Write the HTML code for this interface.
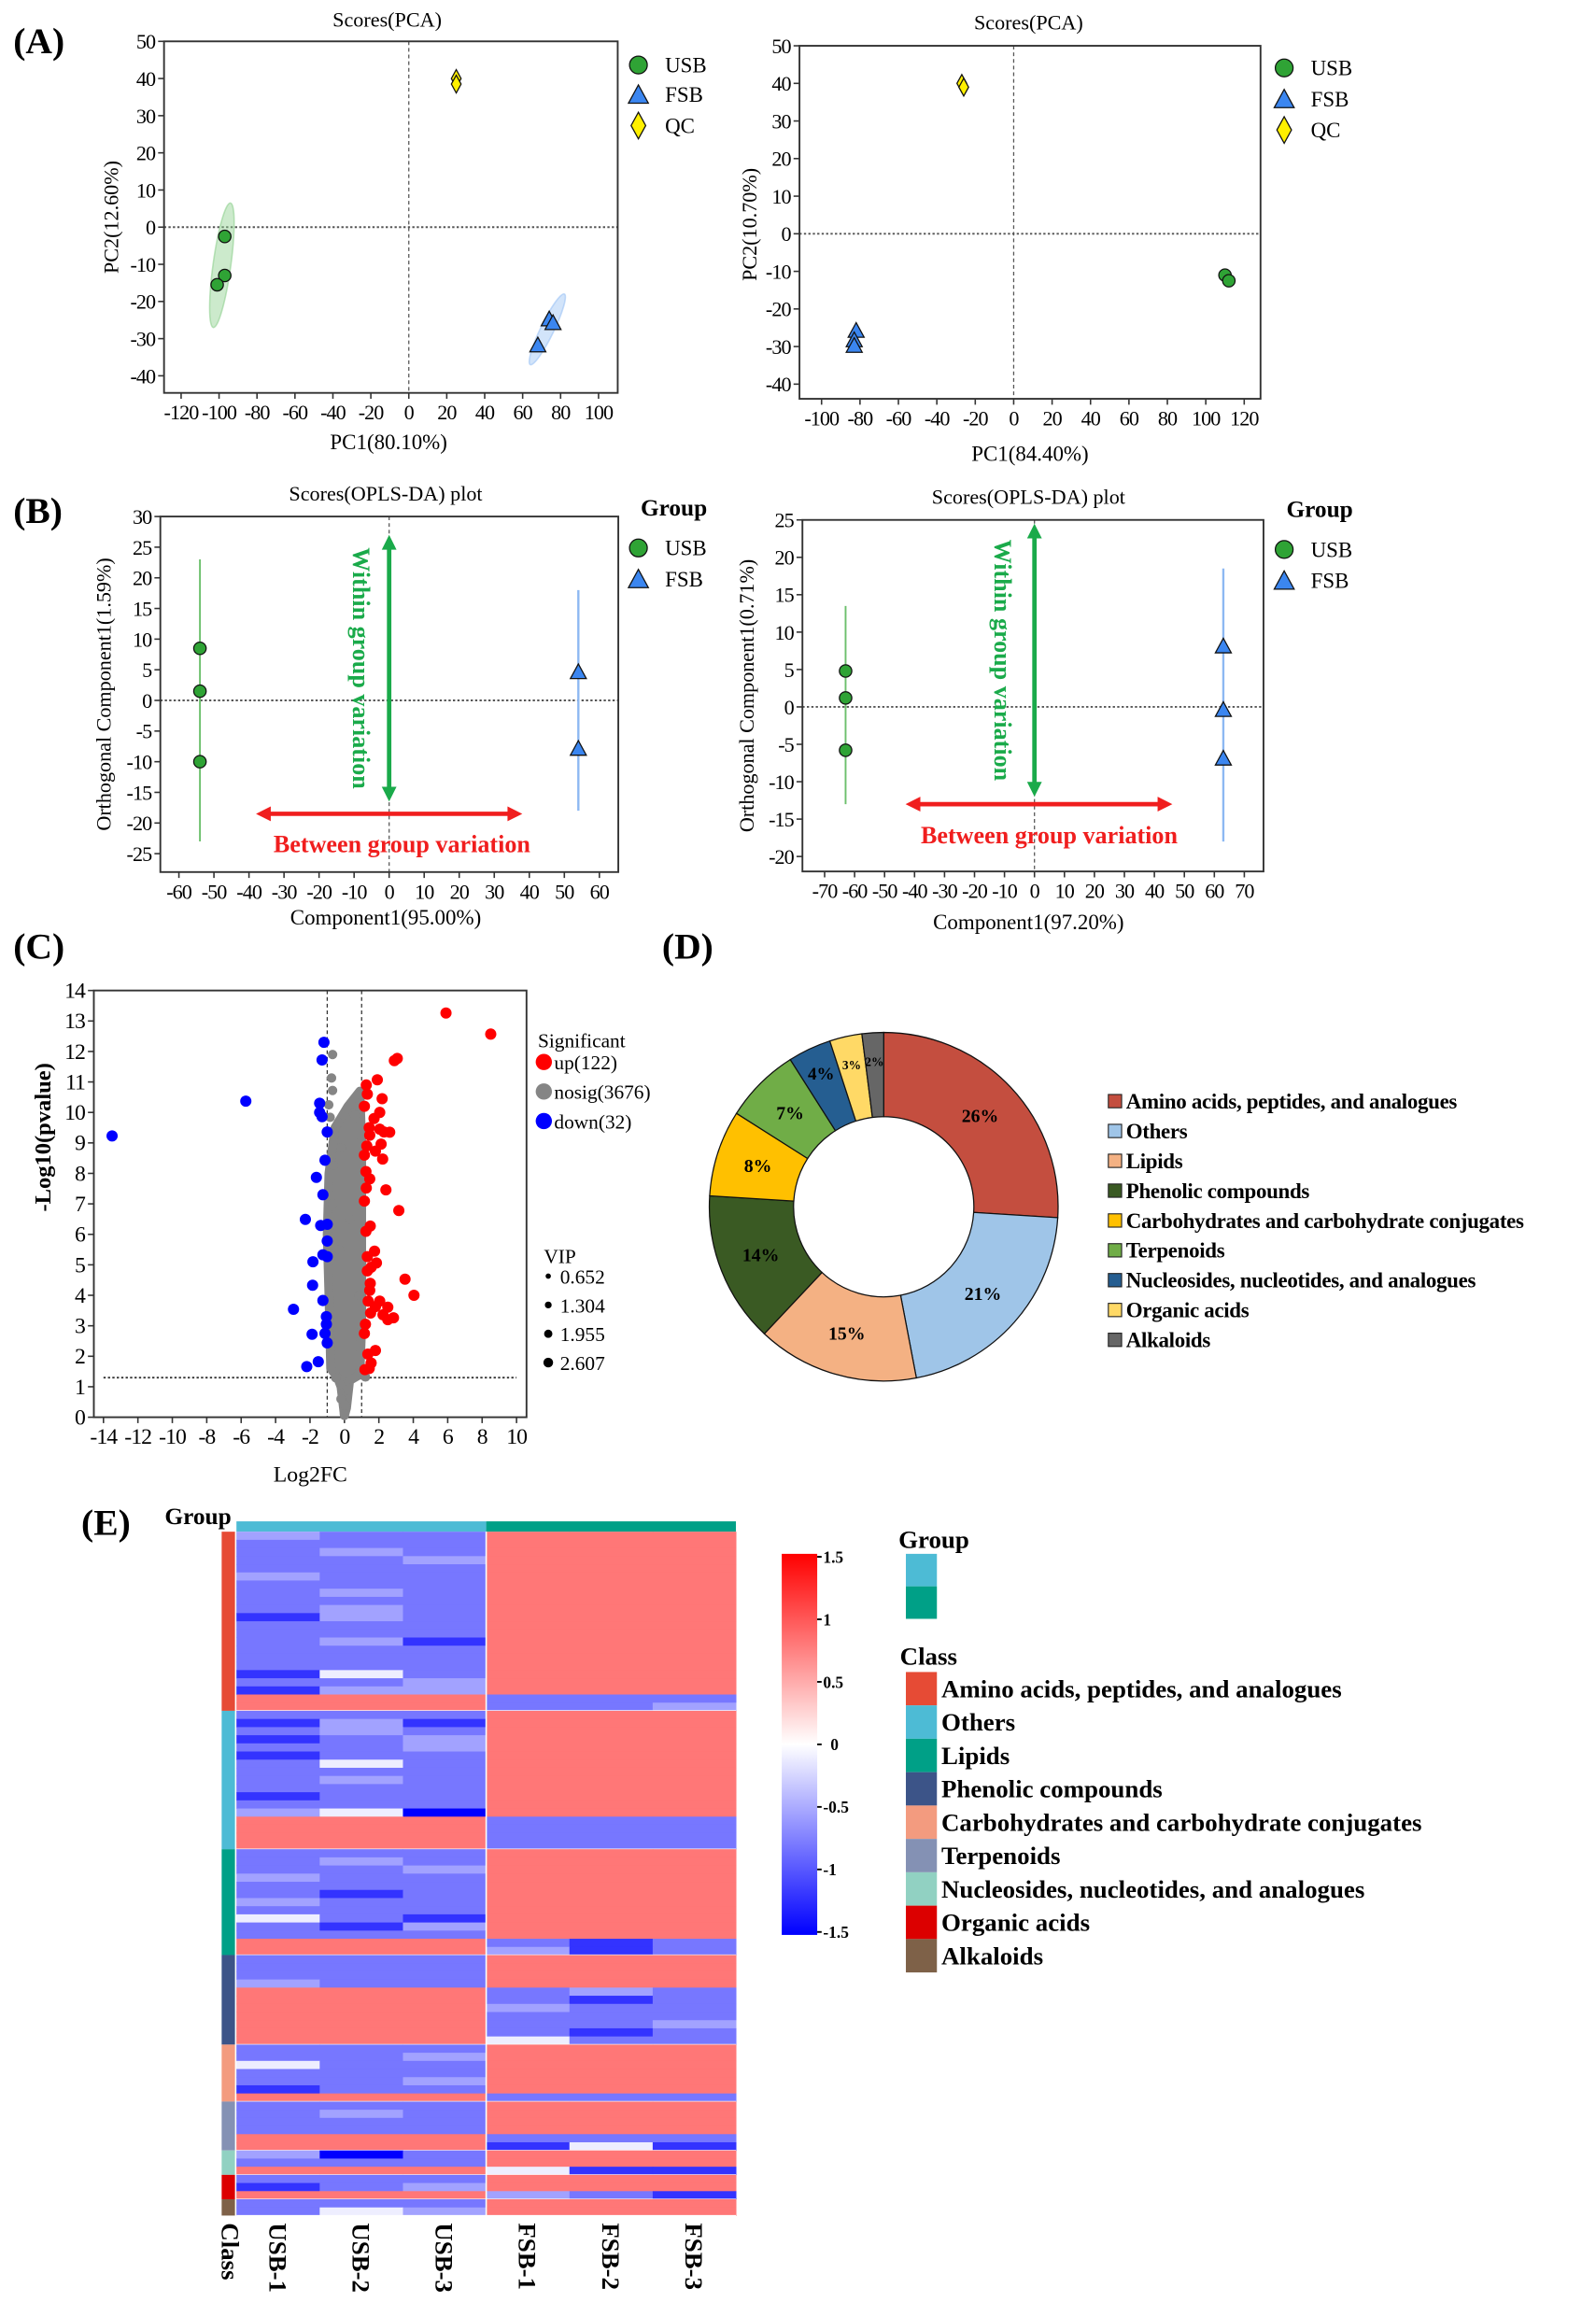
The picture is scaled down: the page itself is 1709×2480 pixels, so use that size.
<!DOCTYPE html>
<html><head><meta charset="utf-8"><style>
html,body{margin:0;padding:0;background:#fff;}
svg{display:block;}
text{font-family:"Liberation Serif","Times New Roman",serif;fill:#000;}
</style></head>
<body>
<svg id="fig" xmlns="http://www.w3.org/2000/svg" width="1709" height="2480" viewBox="0 0 1080 1568" preserveAspectRatio="none">
<defs>
<linearGradient id="cbar" x1="0" y1="0" x2="0" y2="1">
<stop offset="0" stop-color="#ff0000"/><stop offset="0.5" stop-color="#ffffff"/><stop offset="1" stop-color="#0000ff"/>
</linearGradient>
</defs>
</svg>
<script>
// ---------- DATA ----------
// Panel A left (PCA)
const pcaL_usb_x=[-97,-97,-101], pcaL_usb_y=[-2.5,-13,-15.5];
const pcaL_fsb_x=[74,76,68], pcaL_fsb_y=[-25,-26,-32];
const pcaL_qc_x=[25,25], pcaL_qc_y=[40,38.5];
const pcaL_ellG=[-103,-27,-94,6.5,6], pcaL_ellB=[64,-37,82,-18,4.5];
// Panel A right
const pcaR_usb_x=[110,112], pcaR_usb_y=[-11,-12.5];
const pcaR_fsb_x=[-82,-83,-83], pcaR_fsb_y=[-26,-28.5,-30];
const pcaR_qc_x=[-27,-26], pcaR_qc_y=[40,39];
// Panel B left (OPLS-DA)
const oplsL_usb_x=[-54,-54,-54], oplsL_usb_y=[8.5,1.5,-10];
const oplsL_fsb_x=[54,54], oplsL_fsb_y=[4.5,-8];
const oplsL_usbRange=[23,-23], oplsL_fsbRange=[18,-18];
// Panel B right
const oplsR_usb_x=[-63,-63,-63], oplsR_usb_y=[4.8,1.2,-5.8];
const oplsR_fsb_x=[63,63,63], oplsR_fsb_y=[8,-0.5,-7];
const oplsR_usbRange=[13.5,-13], oplsR_fsbRange=[18.5,-18];
// Panel C volcano
const up_x=[5.9,8.5,2.9,3.07,1.91,1.27,1.33,2.19,1.16,2.05,1.72,1.44,2.05,2.63,2.3,1.47,2.13,1.8,1.3,2.22,1.16,1.25,1.47,1.27,2.41,1.16,3.16,1.5,1.25,1.75,1.33,1.86,1.55,1.33,3.52,1.5,1.47,4.04,1.38,2.05,1.8,2.52,1.52,2.24,2.85,2.52,1.22,1.16,1.8,1.36,1.55,1.19,1.44];
const up_y=[13.26,12.57,11.7,11.77,11.07,10.9,10.6,10.45,10.2,10.0,9.8,9.5,9.45,9.35,9.36,9.25,8.96,8.73,8.9,8.47,8.6,8.06,7.82,7.52,7.46,7.09,6.78,6.27,6.1,5.45,5.27,5.06,4.92,4.8,4.53,4.39,4.16,4.0,3.81,3.81,3.63,3.61,3.42,3.36,3.26,3.2,3.05,2.75,2.19,2.07,1.78,1.56,1.6];
const down_x=[-13.5,-5.73,-1.19,-1.3,-1.44,-1.44,-1.3,-1.0,-1.13,-1.63,-1.25,-2.27,-1.38,-1.0,-1.0,-1.25,-1.0,-1.83,-1.85,-1.25,-2.96,-1.05,-1.05,-1.88,-1.13,-1.0,-1.52,-2.19];
const down_y=[9.23,10.37,12.3,11.72,10.3,10.0,9.86,9.36,8.43,7.87,7.3,6.49,6.29,6.33,5.78,5.33,5.27,5.1,4.33,3.83,3.54,3.3,3.05,2.72,2.75,2.44,1.82,1.66];
const nosig_x=[-0.69,-0.75,-0.69,-0.91,-0.83,-0.36,-0.19,0.91,-0.64,1.22,-0.5,0.8,0.6,-0.7,0.3,-0.3,0.85,-0.85,0.1,-0.1,0.05,0.2,-0.2,0.0];
const nosig_y=[11.9,11.13,10.72,10.25,9.84,9.66,8.84,10.58,8.26,1.32,1.29,10.2,9.9,7.0,6.5,5.5,4.0,3.0,1.0,0.8,0.4,0.9,0.6,0.1];
const nosig_hull_x=[-0.8,-0.9,-1.0,-0.9,-0.55,0.2,0.9,1.0,1.0,1.0,0.9,0.3,0.12,0.0,-0.2,-0.4];
const nosig_hull_y=[1.6,4,6,8,9.5,10.2,10.7,9,6,3,1.4,1.2,0.3,0.05,1.0,1.3];
const vip_vals=["0.652","1.304","1.955","2.607"];
// Panel D donut
const donut_labels=["Amino acids, peptides, and analogues","Others","Lipids","Phenolic compounds","Carbohydrates and carbohydrate conjugates","Terpenoids","Nucleosides, nucleotides, and analogues","Organic acids","Alkaloids"];
const donut_vals=[26,21,15,14,8,7,4,3,2];
const donut_colors=["#C44E3F","#9FC5E8","#F4B183","#3A5A23","#FFC000","#70AD47","#255E91","#FFD966","#666666"];
// Panel E heatmap
const hm_cols=["USB-1","USB-2","USB-3","FSB-1","FSB-2","FSB-3"];
const hm_classes=["Amino acids, peptides, and analogues","Others","Lipids","Phenolic compounds","Carbohydrates and carbohydrate conjugates","Terpenoids","Nucleosides, nucleotides, and analogues","Organic acids","Alkaloids"];
const hm_classColors=["#E64B35","#4DBBD5","#00A087","#3C5488","#F39B7F","#8491B4","#91D1C2","#DC0000","#7E6148"];
const hm_code={D:-1.5,d:-1.2,m:-0.8,l:-0.55,w:-0.1,R:0.8};
const hm_rows=[
["lmmRRR","mmmRRR","mlmRRR","mmlRRR","mmmRRR","lmmRRR","mmmRRR","mlmRRR","mmmRRR","mlmRRR","dlmRRR","mmmRRR","mmmRRR","mldRRR","mmmRRR","mmmRRR","mmmRRR","dwmRRR","mmlRRR","dllRRR","RRRmmm","RRRmml"],
["mmmRRR","dldRRR","mlmRRR","dmlRRR","mmlRRR","dmmRRR","mwmRRR","mmmRRR","mlmRRR","mmmRRR","dmmRRR","mmmRRR","lwDRRR","RRRmmm","RRRmmm","RRRmmm","RRRmmm"],
["mmmRRR","mlmRRR","mmlRRR","lmmRRR","mmmRRR","mdmRRR","lmmRRR","mmmRRR","wmdRRR","mdlRRR","mmmRRR","RRRmdm","RRRldm"],
["mmmRRR","mmmRRR","mmmRRR","lmmRRR","RRRmlm","RRRmdm","RRRlmm","RRRmmm","RRRmml","RRRmdm","RRRwmm"],
["mmmRRR","mmlRRR","wmmRRR","mmmRRR","mmlRRR","dmmRRR","RRRmmm"],
["mmmRRR","mlmRRR","mmmRRR","mmmRRR","RRRmmm","RRRdwd"],
["lDmRRR","mmmRRR","RRRwdd"],
["mmmRRR","dmlRRR","RRRlmd"],
["mmmRRR","mwlRRR"]
];
const cbar_ticks=[1.5,1,0.5,0,-0.5,-1,-1.5];
const cbar_labels=["1.5","1","0.5","0","-0.5","-1","-1.5"];

// ---------- HELPERS ----------
const NS="http://www.w3.org/2000/svg";
const svg=document.getElementById('fig');
function mk(tag,attrs,parent){const e=document.createElementNS(NS,tag);for(const k in attrs)e.setAttribute(k,attrs[k]);(parent||svg).appendChild(e);return e;}
function txt(s,x,y,size,opts,parent){const o=Object.assign({x:x,y:y,'font-size':size},opts||{});const e=mk('text',o,parent);e.textContent=s;return e;}
function lin(d0,d1,p0,p1){return v=>p0+(v-d0)/(d1-d0)*(p1-p0);}
function group(name){const g=mk('g',{});return g;}

function axes(g,box,xs,ys,xt,yt,fs,xlabels){
  const r=mk('rect',{x:box.l,y:box.t,width:box.r-box.l,height:box.b-box.t,fill:'none',stroke:'#333','stroke-width':1.2},g);
  
  
  xt.forEach((v,i)=>{const x=xs(v);
    const t=mk('line',{x1:x,x2:x,y1:box.b,y2:box.b+4,stroke:'#333'},g);
    
    
    const l=txt(xlabels?xlabels[i]:String(v),x,box.b+18,fs,{'text-anchor':'middle','letter-spacing':'-0.6'},g);
    
    
  });
  yt.forEach(v=>{const y=ys(v);
    const t=mk('line',{x1:box.l-4,x2:box.l,y1:y,y2:y,stroke:'#333'},g);
    
    
    const l=txt(String(v),box.l-6,y+5,fs,{'text-anchor':'end','letter-spacing':'-0.6'},g);
    
    
  });
}
function zeroLines(g,box,xs,ys){
  const v=mk('line',{x1:xs(0),x2:xs(0),y1:box.t,y2:box.b,stroke:'#555','stroke-width':0.8,'stroke-dasharray':'2.5,2'},g);
  
  
  const h=mk('line',{x1:box.l,x2:box.r,y1:ys(0),y2:ys(0),stroke:'#555','stroke-width':1.2,'stroke-dasharray':'1.5,1.5'},g);
  
  
}
function circ(g,x,y,r,fill,name){const c=mk('circle',{cx:x,cy:y,r:r,fill:fill,stroke:'#111','stroke-width':0.8},g);
  
  return c;}
function tri(g,x,y,s,fill,name){const p=mk('polygon',{points:`${x},${y-s} ${x-s*0.9},${y+s*0.65} ${x+s*0.9},${y+s*0.65}`,fill:fill,stroke:'#111','stroke-width':0.8},g);
  
  return p;}
function dia(g,x,y,s,fill,name){const p=mk('polygon',{points:`${x},${y-s} ${x+s*0.55},${y} ${x},${y+s} ${x-s*0.55},${y}`,fill:fill,stroke:'#111','stroke-width':0.8},g);
  
  return p;}
function ellipse(g,xs,ys,e,fill,name){
  const x1=xs(e[0]),y1=ys(e[1]),x2=xs(e[2]),y2=ys(e[3]);
  const cx=(x1+x2)/2,cy=(y1+y2)/2,len=Math.hypot(x2-x1,y2-y1)/2;
  const ang=Math.atan2(y2-y1,x2-x1)*180/Math.PI;
  const el=mk('ellipse',{cx:cx,cy:cy,rx:len,ry:e[4],fill:fill,'fill-opacity':0.45,stroke:fill,'stroke-opacity':0.6,transform:`rotate(${ang} ${cx} ${cy})`},g);
  
  
}
const GREEN='#2FA335', BLUE='#3B86F0', YELLOW='#FFF000';
function legendItem(g,shape,x,y,label,fill){
  if(shape==='c')circ(g,x,y,6,fill,'legend-marker');
  else if(shape==='t')tri(g,x,y+1,7.5,fill,'legend-marker');
  else dia(g,x,y,9,fill,'legend-marker');
  const t=txt(label,x+18,y+5,14.5,{},g);
  
  
}
function panelLetter(s,x,y){const t=txt(s,x,y,25,{'font-weight':'bold'});
  
  }
function label(g,s,x,y,size,rot,opts,name){
  const o=Object.assign({'text-anchor':'middle'},opts||{});
  if(rot)o.transform=`rotate(${rot} ${x} ${y})`;
  const t=txt(s,x,y,size,o,g);
  
  return t;}

// ---------- PANEL A ----------
panelLetter('(A)',9,36);
(function(){
  const g=group('pca-left-chart');
  const box={l:111,r:418,t:28,b:266};
  const xs=lin(-129,110.1,box.l,box.r), ys=lin(50,-44.6,box.t,box.b);
  zeroLines(g,box,xs,ys);
  ellipse(g,xs,ys,pcaL_ellG,'#8FD18F','usb-ellipse');
  ellipse(g,xs,ys,pcaL_ellB,'#9CC3F5','fsb-ellipse');
  axes(g,box,xs,ys,[-120,-100,-80,-60,-40,-20,0,20,40,60,80,100],[50,40,30,20,10,0,-10,-20,-30,-40],14);
  pcaL_usb_x.forEach((v,i)=>circ(g,xs(v),ys(pcaL_usb_y[i]),4.2,GREEN,'usb-point'));
  pcaL_fsb_x.forEach((v,i)=>tri(g,xs(v),ys(pcaL_fsb_y[i]),6,BLUE,'fsb-point'));
  pcaL_qc_x.forEach((v,i)=>dia(g,xs(v),ys(pcaL_qc_y[i]),6,YELLOW,'qc-point'));
  label(g,'Scores(PCA)',262,18,14,0,{},'chart-title');
  label(g,'PC2(12.60%)',80,147,14,-90,{},'y-axis-title');
  label(g,'PC1(80.10%)',263,304,14.5,0,{},'x-axis-title');
  legendItem(g,'c',432,44,'USB',GREEN);
  legendItem(g,'t',432,64,'FSB',BLUE);
  legendItem(g,'d',432,85,'QC',YELLOW);
})();
(function(){
  const g=group('pca-right-chart');
  const box={l:541,r:853,t:31,b:270};
  const xs=lin(-111.5,128.5,box.l,box.r), ys=lin(50,-43.9,box.t,box.b);
  zeroLines(g,box,xs,ys);
  axes(g,box,xs,ys,[-100,-80,-60,-40,-20,0,20,40,60,80,100,120],[50,40,30,20,10,0,-10,-20,-30,-40],14);
  pcaR_usb_x.forEach((v,i)=>circ(g,xs(v),ys(pcaR_usb_y[i]),4.2,GREEN,'usb-point'));
  pcaR_fsb_x.forEach((v,i)=>tri(g,xs(v),ys(pcaR_fsb_y[i]),6,BLUE,'fsb-point'));
  pcaR_qc_x.forEach((v,i)=>dia(g,xs(v),ys(pcaR_qc_y[i]),6,YELLOW,'qc-point'));
  label(g,'Scores(PCA)',696,20,14,0,{},'chart-title');
  label(g,'PC2(10.70%)',512,152,14,-90,{},'y-axis-title');
  label(g,'PC1(84.40%)',697,312,14.5,0,{},'x-axis-title');
  legendItem(g,'c',869,46,'USB',GREEN);
  legendItem(g,'t',869,67,'FSB',BLUE);
  legendItem(g,'d',869,88,'QC',YELLOW);
})();

// ---------- PANEL B ----------
panelLetter('(B)',9,354);
function arrowH(g,x1,x2,y,col,name){
  const l=mk('line',{x1:x1+8,x2:x2-8,y1:y,y2:y,stroke:col,'stroke-width':3},g);
  
  
  const a=mk('polygon',{points:`${x1},${y} ${x1+10},${y-5} ${x1+10},${y+5}`,fill:col},g);
  
  
  const b=mk('polygon',{points:`${x2},${y} ${x2-10},${y-5} ${x2-10},${y+5}`,fill:col},g);
  
  
}
function arrowV(g,x,y1,y2,col,name){
  const l=mk('line',{x1:x,x2:x,y1:y1+8,y2:y2-8,stroke:col,'stroke-width':3},g);
  
  
  const a=mk('polygon',{points:`${x},${y1} ${x-5},${y1+10} ${x+5},${y1+10}`,fill:col},g);
  
  
  const b=mk('polygon',{points:`${x},${y2} ${x-5},${y2-10} ${x+5},${y2-10}`,fill:col},g);
  
  
}
function opls(name,box,xd,yd,xt,yt,ux,uy,fx,fy,ur,fr,garr,rarr,title,ylab,xlab,tx,ty,ylx,xly,legx,legy,wx,bx,by){
  const g=group(name);
  const xs=lin(xd[0],xd[1],box.l,box.r), ys=lin(yd[0],yd[1],box.t,box.b);
  zeroLines(g,box,xs,ys);
  axes(g,box,xs,ys,xt,yt,14);
  const l1=mk('line',{x1:xs(ux[0]),x2:xs(ux[0]),y1:ys(ur[0]),y2:ys(ur[1]),stroke:'#6CC06C','stroke-width':1.2},g);
  
  
  const l2=mk('line',{x1:xs(fx[0]),x2:xs(fx[0]),y1:ys(fr[0]),y2:ys(fr[1]),stroke:'#8DB8F2','stroke-width':1.5},g);
  
  
  ux.forEach((v,i)=>circ(g,xs(v),ys(uy[i]),4.2,GREEN,'usb-point'));
  fx.forEach((v,i)=>tri(g,xs(v),ys(fy[i]),6,BLUE,'fsb-point'));
  arrowV(g,xs(0),ys(garr[0]),ys(garr[1]),'#1AAA4A','within-group-arrow');
  arrowH(g,xs(rarr[0]),xs(rarr[1]),ys(rarr[2]),'#F01E1E','between-group-arrow');
  label(g,'Within group variation',wx,(ys(garr[0])+ys(garr[1]))/2,16.5,90,{'font-weight':'bold',style:'fill:#1AAA4A'},'within-group-label');
  label(g,'Between group variation',bx,by,16.5,0,{'font-weight':'bold',style:'fill:#F01E1E'},'between-group-label');
  label(g,title,tx,ty,14,0,{},'chart-title');
  label(g,ylab,ylx,(box.t+box.b)/2,14,-90,{},'y-axis-title');
  label(g,xlab,tx,xly,14.5,0,{},'x-axis-title');
  label(g,'Group',legx+24,legy,16,0,{'font-weight':'bold'},'legend-title');
  legendItem(g,'c',legx,legy+22,'USB',GREEN);
  legendItem(g,'t',legx,legy+43,'FSB',BLUE);
}
opls('opls-left-chart',{l:108.5,r:418.4,t:349.7,b:590.4},[-65.3,65.4],[30,-28.0],
  [-60,-50,-40,-30,-20,-10,0,10,20,30,40,50,60],[30,25,20,15,10,5,0,-5,-10,-15,-20,-25],
  oplsL_usb_x,oplsL_usb_y,oplsL_fsb_x,oplsL_fsb_y,oplsL_usbRange,oplsL_fsbRange,[27,-16.5],[-38,38,-18.5],
  'Scores(OPLS-DA) plot','Orthogonal Component1(1.59%)','Component1(95.00%)',261,339,75,626,432,349,239,272,577);
opls('opls-right-chart',{l:543,r:855,t:352,b:590},[-77.4,76.4],[25,-22.0],
  [-70,-60,-50,-40,-30,-20,-10,0,10,20,30,40,50,60,70],[25,20,15,10,5,0,-5,-10,-15,-20],
  oplsR_usb_x,oplsR_usb_y,oplsR_fsb_x,oplsR_fsb_y,oplsR_usbRange,oplsR_fsbRange,[24.5,-12],[-43,46,-13],
  'Scores(OPLS-DA) plot','Orthogonal Component1(0.71%)','Component1(97.20%)',696,341,510,629,869,350,673,710,571);

// ---------- PANEL C ----------
panelLetter('(C)',9,649);
(function(){
  const g=group('volcano-chart');
  const box={l:63.5,r:356.3,t:670.6,b:959.5};
  const xs=lin(-14.56,10.58,box.l,box.r), ys=lin(14,0,box.t,box.b);
  axes(g,box,xs,ys,[-14,-12,-10,-8,-6,-4,-2,0,2,4,6,8,10],[14,13,12,11,10,9,8,7,6,5,4,3,2,1,0],15);
  [-1,1].forEach(v=>{const l=mk('line',{x1:xs(v),x2:xs(v),y1:box.t,y2:box.b,stroke:'#333','stroke-width':0.8,'stroke-dasharray':'2.5,2'},g);
    
    });
  const h=mk('line',{x1:xs(-14),x2:xs(10),y1:ys(1.3),y2:ys(1.3),stroke:'#333','stroke-width':1.2,'stroke-dasharray':'1.5,1.5'},g);
  
  
  const hull=mk('polygon',{points:nosig_hull_x.map((v,i)=>xs(v)+','+ys(nosig_hull_y[i])).join(' '),fill:'#858585',stroke:'#858585','stroke-width':6,'stroke-linejoin':'round'},g);
  
  
  nosig_x.forEach((v,i)=>{const c=mk('circle',{cx:xs(v),cy:ys(nosig_y[i]),r:3.2,fill:'#858585'},g);
    
    });
  up_x.forEach((v,i)=>{const c=mk('circle',{cx:xs(v),cy:ys(up_y[i]),r:3.8,fill:'#FF0000'},g);
    
    });
  down_x.forEach((v,i)=>{const c=mk('circle',{cx:xs(v),cy:ys(down_y[i]),r:3.8,fill:'#0000FF'},g);
    
    });
  label(g,'-Log10(pvalue)',34,770,15.5,-90,{'font-weight':'bold'},'y-axis-title');
  label(g,'Log2FC',210,1003,15,0,{},'x-axis-title');
  label(g,'Significant',364,709,13.5,0,{'text-anchor':'start'},'legend-title');
  const leg=[['up(122)','#FF0000'],['nosig(3676)','#858585'],['down(32)','#0000FF']];
  leg.forEach((d,i)=>{const y=719+i*20;
    const c=mk('circle',{cx:368,cy:y,r:5.5,fill:d[1]},g);
    
    
    label(g,d[0],375,y+5,13.5,0,{'text-anchor':'start'},'legend-label');});
  label(g,'VIP',368,855,13.5,0,{'text-anchor':'start'},'vip-legend-title');
  vip_vals.forEach((s,i)=>{const y=864+i*19.5;
    const c=mk('circle',{cx:371,cy:y,r:1.8+i*0.5,fill:'#000'},g);
    
    
    label(g,s,379,y+5,13.5,0,{'text-anchor':'start'},'vip-legend-label');});
})();

// ---------- PANEL D ----------
panelLetter('(D)',448,649);
(function(){
  const g=group('donut-chart');
  const cx=598,cy=817,R=118,r=61;
  const total=donut_vals.reduce((a,b)=>a+b,0);
  let a0=-Math.PI/2;
  donut_vals.forEach((v,i)=>{
    const a1=a0+v/total*2*Math.PI, large=(a1-a0)>Math.PI?1:0;
    const p=`M${cx+R*Math.cos(a0)},${cy+R*Math.sin(a0)} A${R},${R} 0 ${large} 1 ${cx+R*Math.cos(a1)},${cy+R*Math.sin(a1)} L${cx+r*Math.cos(a1)},${cy+r*Math.sin(a1)} A${r},${r} 0 ${large} 0 ${cx+r*Math.cos(a0)},${cy+r*Math.sin(a0)} Z`;
    const s=mk('path',{d:p,fill:donut_colors[i],stroke:'#111','stroke-width':0.8},g);
    
    
    const am=(a0+a1)/2, rm=v<5?(R+r)/2+10:(R+r)/2;
    label(g,v+'%',cx+rm*Math.cos(am),cy+rm*Math.sin(am)+4,v<5?(v<4?8.5:12):12.5,0,{'font-weight':'bold'},'slice-label');
    a0=a1;
  });
  donut_labels.forEach((s,i)=>{const y=746+i*20.2;
    const q=mk('rect',{x:750,y:y-5,width:9,height:9,fill:donut_colors[i],stroke:'#222','stroke-width':0.7},g);
    
    
    label(g,s,762,y+4.5,14.5,0,{'text-anchor':'start','font-weight':'bold','letter-spacing':'-0.2'},'legend-label');});
})();

// ---------- PANEL E ----------
panelLetter('(E)',55,1039);
function hmColor(v){const t=Math.min(1,Math.abs(v)/1.5);const c=Math.round(255*(1-t));return v<0?`rgb(${c},${c},255)`:`rgb(255,${c},${c})`;}
(function(){
  const g=group('heatmap-chart');
  const L=160,W=338,T=1037,B=1500,cw=W/6;
  const nrows=hm_rows.reduce((a,b)=>a+b.length,0), rh=(B-T)/nrows;
  const gb1=mk('rect',{x:L,y:1030,width:W/2,height:7,fill:'#4DBBD5'},g);
  
  
  const gb2=mk('rect',{x:L+W/2,y:1030,width:W/2,height:7,fill:'#00A087'},g);
  
  
  label(g,'Group',134,1032,16,0,{'font-weight':'bold'},'group-bar-title');
  let y=T;
  hm_rows.forEach((rows,ci)=>{
    const cb=mk('rect',{x:150,y:y,width:9,height:rows.length*rh,fill:hm_classColors[ci]},g);
    
    
    rows.forEach(row=>{
      for(let j=0;j<6;j++){
        const c=mk('rect',{x:L+j*cw,y:y,width:cw+0.3,height:rh+0.3,fill:hmColor(hm_code[row[j]])},g);
        
        
      }
      y+=rh;
    });
    const sep=mk('line',{x1:L,x2:L+W,y1:y,y2:y,stroke:'#fff','stroke-width':0.8},g);
    
    
  });
  const vs=mk('line',{x1:L+W/2,x2:L+W/2,y1:T,y2:B,stroke:'#fff','stroke-width':1},g);
  
  
  label(g,'Class',150,1505,17,90,{'text-anchor':'start','font-weight':'bold'},'column-label');
  hm_cols.forEach((s,j)=>label(g,s,L+j*cw+cw/2-6,1505,17,90,{'text-anchor':'start','font-weight':'bold'},'column-label'));
  // colorbar
  const cb=mk('rect',{x:529,y:1052,width:24,height:258,fill:'url(#cbar)'},g);
  
  
  const cs=lin(1.5,-1.5,1054,1308);
  cbar_ticks.forEach((v,i)=>{
    const t=mk('line',{x1:553,x2:556,y1:cs(v),y2:cs(v),stroke:'#000','stroke-width':1.2},g);
    
    
    label(g,cbar_labels[i],v===0?562:557,cs(v)+4,11,0,{'text-anchor':'start','font-weight':'bold'},'colorbar-label');
  });
  // legends
  label(g,'Group',608,1048,17,0,{'text-anchor':'start','font-weight':'bold'},'group-legend-title');
  const s1=mk('rect',{x:613,y:1052,width:21,height:22,fill:'#4DBBD5'},g);
  
  
  const s2=mk('rect',{x:613,y:1074,width:21,height:22,fill:'#00A087'},g);
  
  
  label(g,'Class',609,1127,17,0,{'text-anchor':'start','font-weight':'bold'},'class-legend-title');
  hm_classes.forEach((s,i)=>{const yy=1132+i*22.6;
    const q=mk('rect',{x:613,y:yy,width:21,height:22.6,fill:hm_classColors[i]},g);
    
    
    label(g,s,637,yy+17,17,0,{'text-anchor':'start','font-weight':'bold'},'class-legend-label');});
})();
</script>
</body></html>
